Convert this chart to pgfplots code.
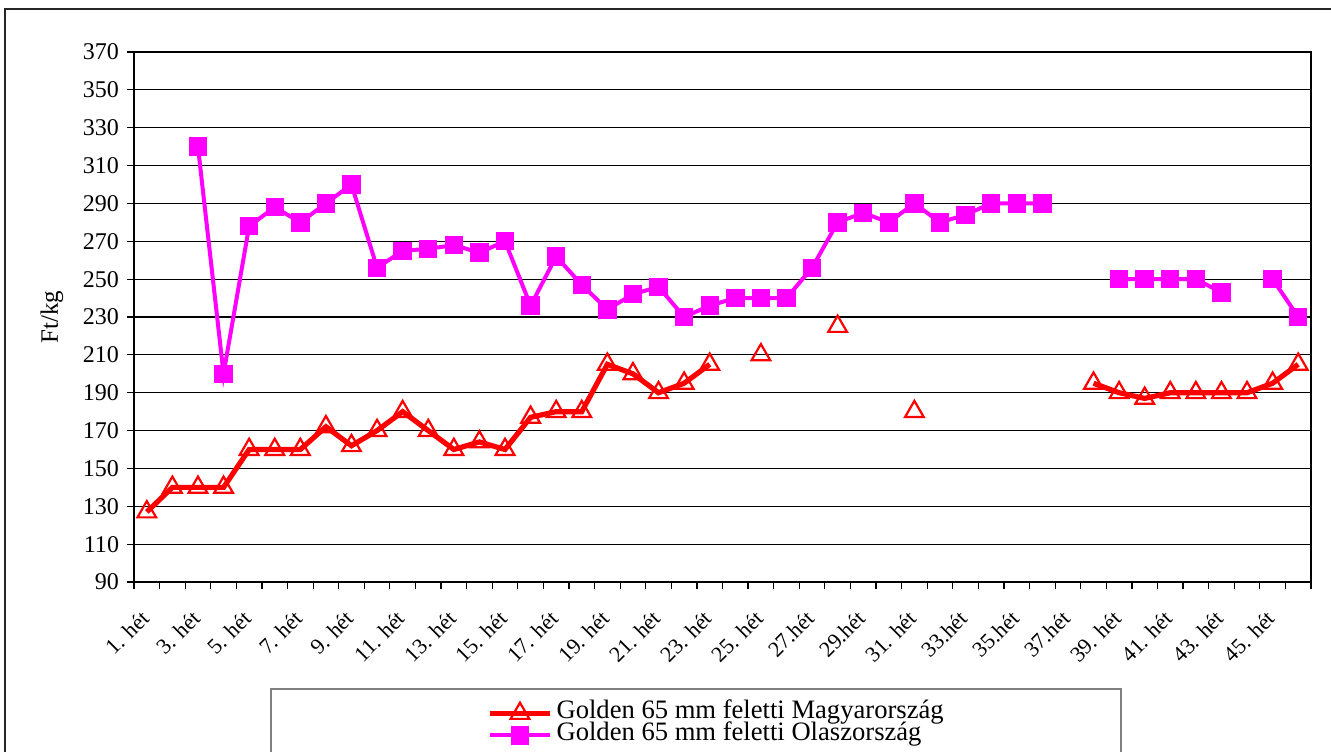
\documentclass[border=0pt]{standalone}
\usepackage{fontspec}
\setmainfont{Liberation Serif}
\usepackage{pgfplots}
\pgfplotsset{compat=1.18}
\usepackage{pgfplotstable}

\definecolor{hured}{RGB}{255,0,0}
\definecolor{itmag}{RGB}{255,0,255}

% Golden 65 mm feletti, Magyarorszag (Ft/kg)
\pgfplotstableread{
het ar
1 127
2 140
3 140
4 140
5 160
6 160
7 160
8 172
9 162
10 170
11 180
12 170
13 160
14 164
15 160
16 177
17 180
18 180
19 205
20 200
21 190
22 195
23 205
24 nan
25 210
26 nan
27 nan
28 225
29 nan
30 nan
31 180
32 nan
33 nan
34 nan
35 nan
36 nan
37 nan
38 195
39 190
40 187
41 190
42 190
43 190
44 190
45 195
46 205
}\magyar

% Golden 65 mm feletti, Olaszorszag (Ft/kg)
\pgfplotstableread{
het ar
1 nan
2 nan
3 320
4 200
5 278
6 288
7 280
8 290
9 300
10 256
11 265
12 266
13 268
14 264
15 270
16 236
17 262
18 247
19 234
20 242
21 246
22 230
23 236
24 240
25 240
26 240
27 256
28 280
29 285
30 280
31 290
32 280
33 284
34 290
35 290
36 290
37 nan
38 nan
39 250
40 250
41 250
42 250
43 243
44 nan
45 250
46 230
}\olasz

\begin{document}
\begin{tikzpicture}[x=1pt,y=1pt]
\useasboundingbox (-67,-84.5) rectangle (598.5,291);
% chart frame and legend box
\draw[black!85, line width=0.6pt] (-64.5,-100) -- (-64.5,286.5) -- (620,286.5);
\draw[black!50, line width=0.9pt] (68.5,-100) -- (68.5,-53.5) -- (493.5,-53.5) -- (493.5,-100);
\begin{axis}[
  at={(0,0)}, anchor=south west,
  scale only axis, width=588.5pt, height=265pt,
  xmin=0.5, xmax=46.5, ymin=90, ymax=370,
  axis line style={black, line width=0.6pt},
  ytick={90,110,...,370},
  ymajorgrids, grid style={black, line width=0.55pt},
  tick align=outside, xtick pos=bottom, ytick pos=left,
  major tick length=3.3pt,
  tick style={black, line width=0.6pt},
  xtick={0.5,1.5,...,46.5}, xticklabels={},
  extra x ticks={1,3,...,45},
  extra x tick labels={1. hét,3. hét,5. hét,7. hét,9. hét,11. hét,13. hét,15. hét,17. hét,19. hét,21. hét,23. hét,25. hét,27.hét,29.hét,31. hét,33.hét,35.hét,37.hét,39. hét,41. hét,43. hét,45. hét},
  extra x tick style={major tick length=0pt, grid=none},
  xticklabel style={rotate=45, anchor=east, inner sep=0pt, xshift=-12pt, yshift=-11pt, font=\fontsize{11}{11}\selectfont},
  yticklabel style={font=\fontsize{12}{12}\selectfont, inner sep=0pt, xshift=-4pt},
  /pgf/number format/assume math mode=true,
  ylabel={Ft/kg},
  ylabel style={at={(axis description cs:-0.0697,0.5)}, anchor=center, font=\fontsize{12.5}{12.5}\selectfont},
  unbounded coords=jump,
  legend style={draw=none, fill=none, inner sep=0pt, row sep=0pt,
    at={(0.2999,-0.2265)}, anchor=north west,
    nodes={inner sep=0pt, text height=8pt, text depth=3pt, font=\fontsize{13.3}{13.3}\selectfont},
    /tikz/every odd column/.append style={column sep=2pt}},
  legend cell align=left,
  legend image code/.code={
    \draw[#1, mark=none] (0pt,0pt) -- (30pt,0pt);
    \draw[#1, only marks] plot coordinates {(15pt,0pt)};
  },
]
\addplot[hured, line width=2.6pt, mark=triangle, mark size=5.4pt,
  mark options={solid, fill=white, draw=hured, line width=1.1pt}]
  table[x=het, y=ar] {\magyar};
\addlegendentry{Golden 65 mm feletti Magyarország}
\addplot[itmag, line width=2pt, mark=square*, mark size=3.6pt,
  mark options={solid, fill=itmag, draw=itmag}]
  table[x=het, y=ar] {\olasz};
\addlegendentry{Golden 65 mm feletti Olaszország}
\end{axis}
\end{tikzpicture}
\end{document}
